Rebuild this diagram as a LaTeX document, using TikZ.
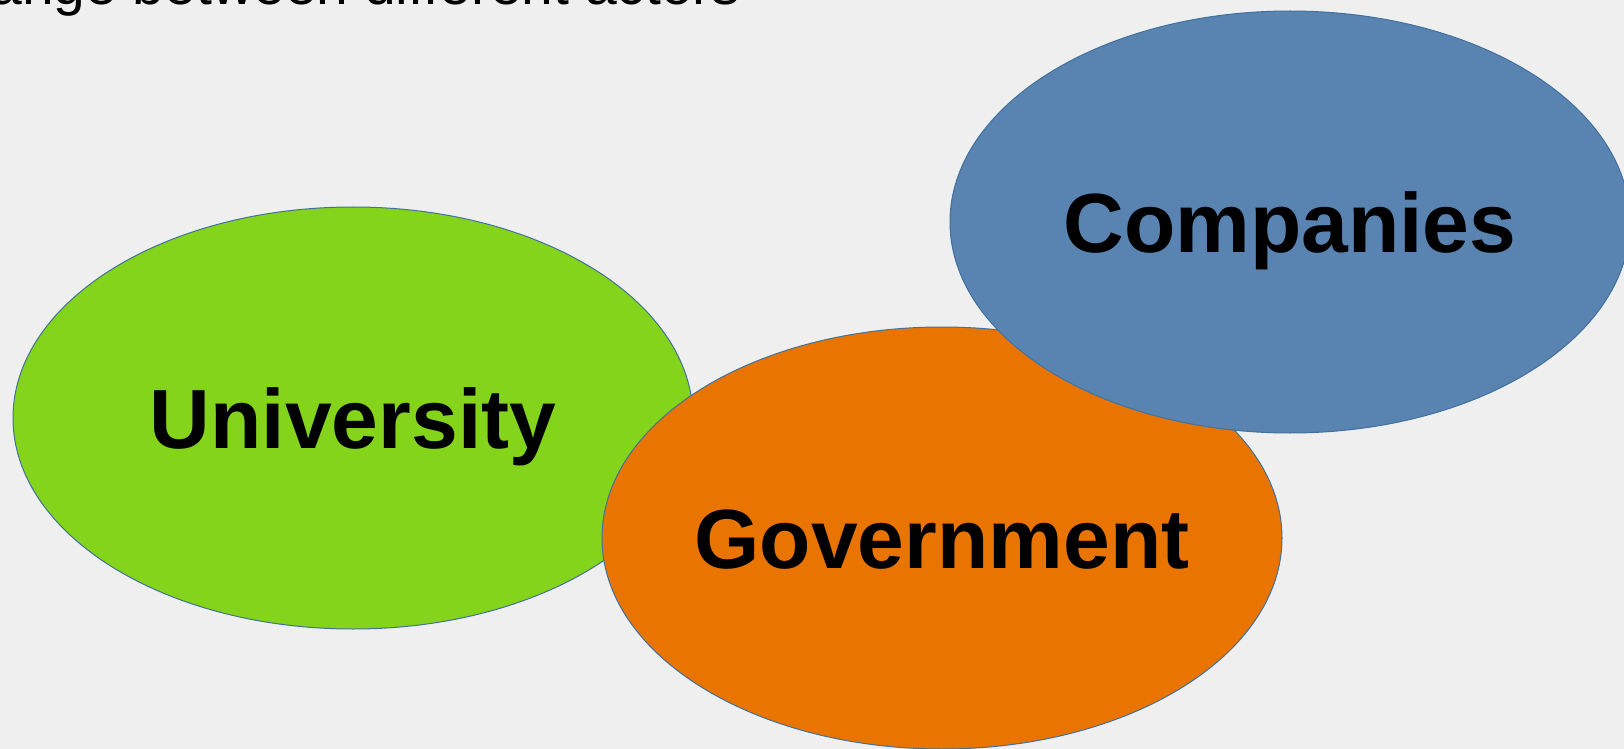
\documentclass[tikz,border=0pt]{standalone}
\usepackage{fontspec}
\setmainfont{Liberation Sans}
\usepackage{xcolor}
\usetikzlibrary{shapes.geometric}
\definecolor{slidebg}{RGB}{239,239,239}
\definecolor{unigreen}{RGB}{131,212,26}
\definecolor{govorange}{RGB}{233,117,0}
\definecolor{compblue}{RGB}{89,131,176}
\definecolor{rimblue}{RGB}{65,113,156}
\begin{document}
\begin{tikzpicture}[x=0.5pt,y=-0.5pt,
  actor/.style={ellipse, draw=rimblue, line width=0.5pt, minimum width=340pt, minimum height=211pt,
    inner ysep=0pt, inner xsep=-20pt, font=\fontsize{42pt}{50pt}\selectfont\bfseries, text height=30pt, text depth=0pt}]
\useasboundingbox (0,0) rectangle (1624,749);
\clip (0,0) rectangle (1624,749);
\fill[slidebg] (0,0) rectangle (1624,749);
\node[anchor=base west, inner sep=0pt, font=\fontsize{28.5pt}{34pt}\selectfont] (heading) at (-10,5) {ange between different actors};
\node[actor, fill=unigreen] (university) at (353,418) {University};
\node[actor, fill=govorange] (government) at (942,538) {Government};
\node[actor, fill=compblue] (companies) at (1290,222) {Companies};
\end{tikzpicture}
\end{document}
